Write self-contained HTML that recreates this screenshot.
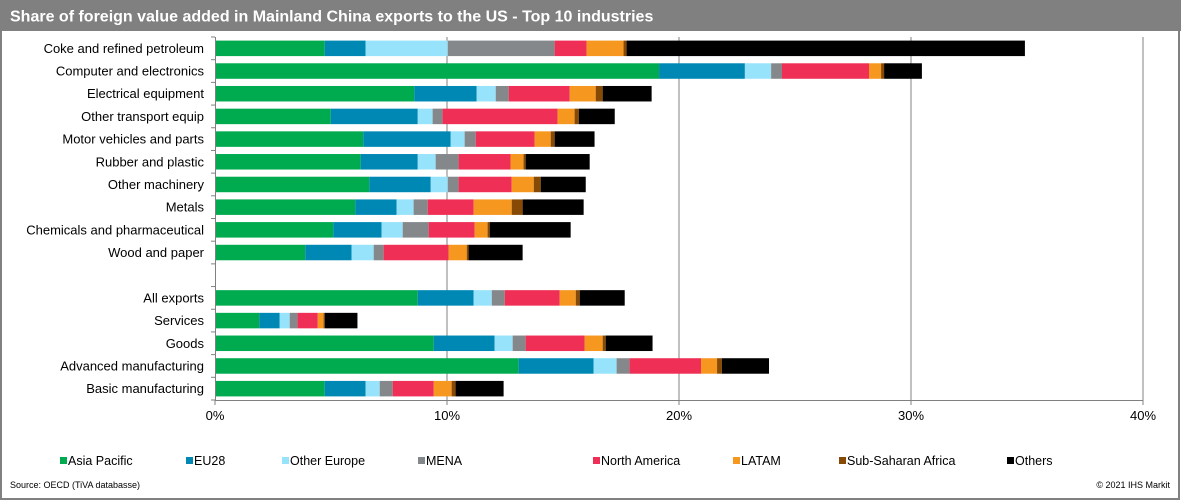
<!DOCTYPE html>
<html><head><meta charset="utf-8"><style>
body{margin:0;background:#fff;}
svg{display:block;font-family:"Liberation Sans",Arial,sans-serif;}
</style></head><body>
<svg id="chart" width="1181" height="501">
<rect x="1" y="1" width="1178" height="498" fill="#fff" stroke="#808080" stroke-width="2"/>
<rect x="0" y="0" width="1181" height="31" fill="#808080"/>
<text x="10" y="21.5" fill="#fff" font-size="16" font-weight="bold">Share of foreign value added in Mainland China exports to the US - Top 10 industries</text>
<g id="grid"></g><g id="bars"></g><g id="axes"></g><g id="legend"></g>
<text x="10" y="488" font-size="9" fill="#000">Source: OECD (TiVA databasse)</text>
<text x="1170" y="488" font-size="9" fill="#000" text-anchor="end">© 2021  IHS Markit</text>
</svg>
<script>
const categories=["Coke and refined petroleum","Computer and electronics","Electrical equipment","Other transport equip","Motor vehicles and parts","Rubber and plastic","Other machinery","Metals","Chemicals and pharmaceutical","Wood and paper","","All exports","Services","Goods","Advanced manufacturing","Basic manufacturing"];
const seriesNames=["Asia Pacific","EU28","Other Europe","MENA","North America","LATAM","Sub-Saharan Africa","Others"];
const seriesColors=["#00aa4f","#0088b5","#97e3fb","#85888b","#ef2f55","#f6971f","#874a05","#000000"];
const asiaPacific=[4.73,19.14,8.59,4.99,6.39,6.28,6.65,6.05,5.10,3.89,null,8.74,1.91,9.43,13.09,4.73];
const eu28=[1.76,3.70,2.69,3.75,3.77,2.46,2.65,1.78,2.08,2.00,null,2.41,0.88,2.62,3.23,1.76];
const otherEurope=[3.54,1.13,0.82,0.64,0.60,0.77,0.73,0.73,0.91,0.95,null,0.78,0.43,0.78,0.99,0.61];
const mena=[4.61,0.47,0.56,0.43,0.48,0.99,0.47,0.61,1.12,0.43,null,0.56,0.34,0.56,0.56,0.56];
const northAmerica=[1.38,3.75,2.63,4.96,2.54,2.24,2.29,1.98,1.98,2.80,null,2.37,0.87,2.54,3.08,1.77];
const latam=[1.59,0.52,1.12,0.73,0.69,0.56,0.95,1.64,0.56,0.78,null,0.69,0.25,0.78,0.69,0.77];
const subSaharan=[0.13,0.13,0.30,0.18,0.17,0.09,0.30,0.47,0.09,0.08,null,0.17,0.05,0.13,0.21,0.17];
const others=[17.17,1.63,2.11,1.55,1.72,2.76,1.94,2.63,3.49,2.33,null,1.94,1.41,2.02,2.03,2.07];
const xTicks=[0,10,20,30,40];
const xTickLabels=["0%","10%","20%","30%","40%"];
const series=[asiaPacific,eu28,otherEurope,mena,northAmerica,latam,subSaharan,others];

const NS="http://www.w3.org/2000/svg";
const x0=215,x1=1143,xMax=40,yTop=37,yBot=400;
const slot=(yBot-yTop)/categories.length, barH=15.5;
const xs=v=>x0+v/xMax*(x1-x0);
const yc=i=>yTop+slot*(i+0.5);
function mk(tag,attrs,parent){const e=document.createElementNS(NS,tag);for(const k in attrs)e.setAttribute(k,attrs[k]);parent.appendChild(e);return e;}
const grid=document.getElementById('grid'),bars=document.getElementById('bars'),axes=document.getElementById('axes'),legend=document.getElementById('legend');
xTicks.forEach((t,i)=>{
  if(t>0){const g=mk('line',{x1:xs(t),x2:xs(t),y1:yTop,y2:yBot,stroke:'#808080','stroke-width':1},grid);
  
  }
  const tk=mk('line',{x1:xs(t),x2:xs(t),y1:yBot,y2:yBot+5,stroke:'#808080'},axes);
  
  
  const lb=mk('text',{x:xs(t),y:yBot+20,'font-size':13,'text-anchor':'middle',fill:'#000'},axes);
  lb.textContent=xTickLabels[i];
  
  
});
const xa=mk('line',{x1:x0,x2:x1,y1:yBot+0.5,y2:yBot+0.5,stroke:'#808080'},axes);


const ya=mk('line',{x1:x0+0.5,x2:x0+0.5,y1:yTop,y2:yBot,stroke:'#808080'},axes);


for(let i=0;i<=categories.length;i++){
  const t=mk('line',{x1:x0-4,x2:x0,y1:yTop+slot*i,y2:yTop+slot*i,stroke:'#808080'},axes);
  
  
}
categories.forEach((c,i)=>{
  if(!c)return;
  const lb=mk('text',{x:204,y:yc(i)+4.5,'font-size':13,'text-anchor':'end',fill:'#000'},axes);
  lb.textContent=c;
  
  
  let acc=0;
  series.forEach((s,j)=>{
    const v=s[i];if(v==null)return;
    const r=mk('rect',{x:xs(acc),y:yc(i)-barH/2,width:Math.max(0,xs(acc+v)-xs(acc)),height:barH,fill:seriesColors[j]},bars);
    
    
    acc+=v;
  });
});
const legX=[60,186,282,418,593,733,839,1007];
seriesNames.forEach((n,j)=>{
  const r=mk('rect',{x:legX[j],y:457,width:7,height:7,fill:seriesColors[j]},legend);
  
  
  const t=mk('text',{x:legX[j]+8,y:465,'font-size':12.5,fill:'#000'},legend);
  t.textContent=n;
  
  
});
</script>
</body></html>
